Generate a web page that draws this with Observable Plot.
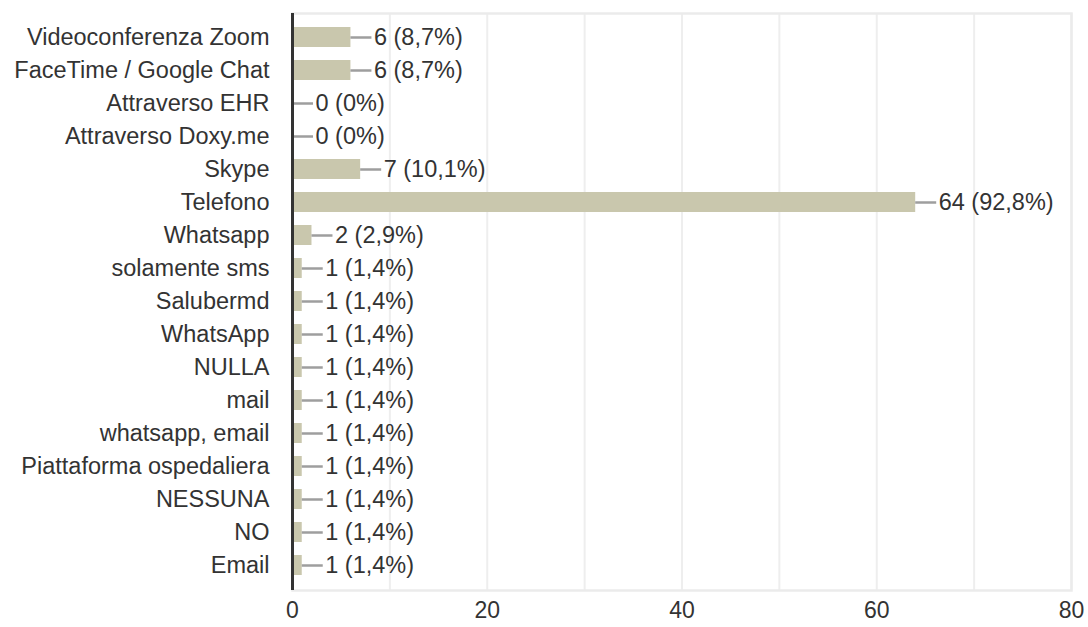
<!DOCTYPE html>
<html>
<head>
<meta charset="utf-8">
<script src="https://cdn.jsdelivr.net/npm/d3@7"></script>
<script src="https://cdn.jsdelivr.net/npm/@observablehq/plot@0.6"></script>
<style>
  html, body { margin: 0; padding: 0; background: #fff; }
  svg { display: block; }
</style>
</head>
<body>
<div id="chart"></div>
<script>
const categories = [
  "Videoconferenza Zoom", "FaceTime / Google Chat", "Attraverso EHR", "Attraverso Doxy.me",
  "Skype", "Telefono", "Whatsapp", "solamente sms", "Salubermd", "WhatsApp", "NULLA",
  "mail", "whatsapp, email", "Piattaforma ospedaliera", "NESSUNA", "NO", "Email"
];
const counts = [6, 6, 0, 0, 7, 64, 2, 1, 1, 1, 1, 1, 1, 1, 1, 1, 1];
const percents = ["8,7%", "8,7%", "0%", "0%", "10,1%", "92,8%", "2,9%", "1,4%", "1,4%", "1,4%", "1,4%", "1,4%", "1,4%", "1,4%", "1,4%", "1,4%", "1,4%"];
const xTicks = [0, 20, 40, 60, 80];
const gridTicks = [0, 10, 20, 30, 40, 50, 60, 70, 80];

const data = categories.map((c, i) => ({cat: c, value: counts[i], label: `${counts[i]} (${percents[i]})`}));

const W = 1088, H = 627, mL = 292, mR = 17;
const leaderUnits = 21 * 80 / (W - mL - mR);

const chart = Plot.plot({
  width: W,
  height: H,
  marginLeft: mL,
  marginRight: mR,
  marginTop: 13,
  marginBottom: 37,
  style: {fontFamily: "'Liberation Sans', Arial, sans-serif", fontSize: "23.5px", color: "#333", background: "#fff"},
  x: {domain: [0, 80], label: null},
  y: {domain: categories, paddingInner: 0.38, paddingOuter: 0.19, label: null},
  marks: [
    Plot.gridX(gridTicks, {stroke: "#eeeeee", strokeOpacity: 1, strokeWidth: 2}),
    Plot.frame({stroke: "#ebebeb", strokeWidth: 2.5}),
    Plot.barX(data, {y: "cat", x: "value", fill: "#c9c7ad"}),
    Plot.ruleY(data, {y: "cat", x1: "value", x2: d => d.value + leaderUnits, stroke: "#9e9e9e", strokeWidth: 2.5}),
    Plot.text(data, {y: "cat", x: "value", text: "label", dx: 23, textAnchor: "start", fill: "#333", fontSize: 23.5}),
    Plot.ruleX([0], {stroke: "#333", strokeWidth: 3}),
    Plot.axisY({tickSize: 0, tickPadding: 23, fontSize: 23.5, fill: "#333", label: null}),
    Plot.axisX(xTicks, {tickSize: 0, tickPadding: 11, fontSize: 23, fill: "#333", label: null})
  ]
});
document.getElementById("chart").appendChild(chart);
</script>
</body>
</html>
